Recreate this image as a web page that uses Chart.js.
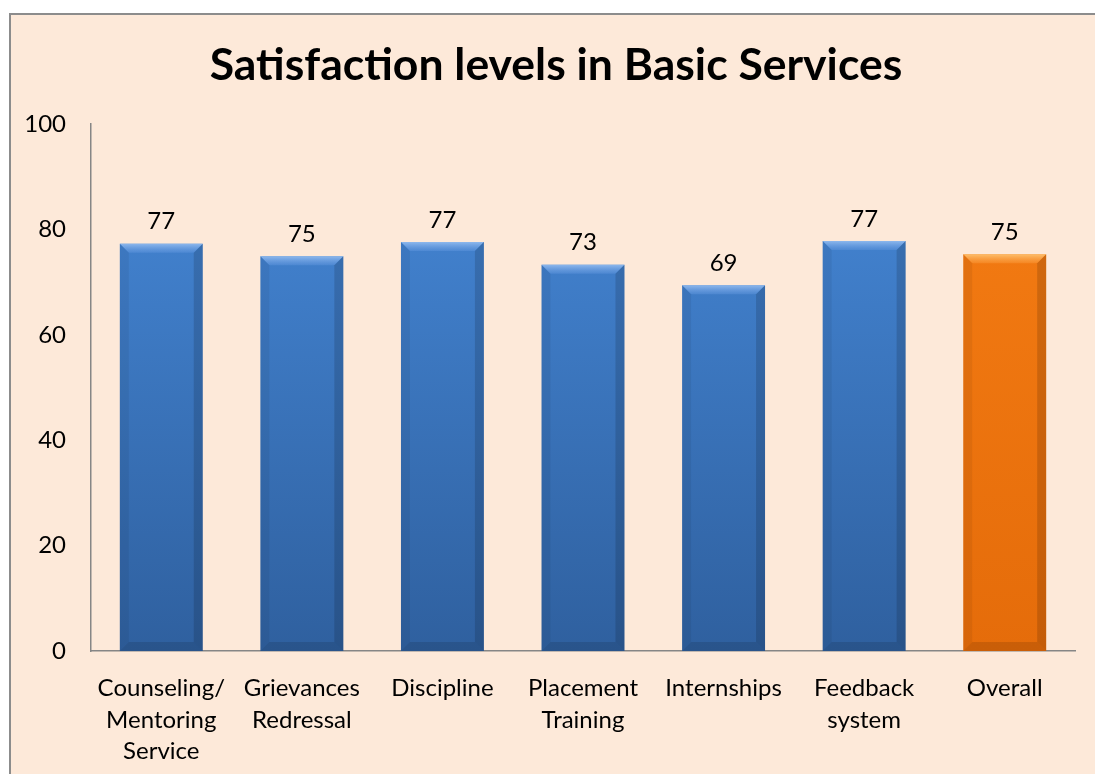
<!DOCTYPE html>
<html>
<head>
<meta charset="utf-8">
<script src="https://cdn.jsdelivr.net/npm/chart.js@4.4.1/dist/chart.umd.min.js"></script>
<style>
  html, body { margin: 0; padding: 0; background: #ffffff; overflow: hidden; }
  .frame {
    position: absolute; left: 9px; top: 13px; width: 1100px; height: 780px;
    background: #fde9d9; border: 2px solid #8c8c8c;
  }
  #wrap { position: absolute; left: 0; top: 0; width: 1095px; height: 774px; }
</style>
</head>
<body>
<div class="frame"></div>
<div id="wrap"><canvas id="satChart"></canvas></div>
<script>
// Chart data
const chartTitle = 'Satisfaction levels in Basic Services';
const categories = [
    ['Counseling/', 'Mentoring', 'Service'],
    ['Grievances', 'Redressal'],
    'Discipline',
    ['Placement', 'Training'],
    'Internships',
    ['Feedback', 'system'],
    'Overall'
];
const satisfaction = [77.3, 74.9, 77.6, 73.3, 69.4, 77.8, 75.3];
const valueLabels = ['77', '75', '77', '73', '69', '77', '75'];
const yTicks = [0, 20, 40, 60, 80, 100];

const blueTop = '#4689d9';
const blueBottom = '#2f609f';
const orangeTop = '#f57d14';
const orangeBottom = '#e56c0a';

function barFill(context) {
    const chart = context.chart;
    const area = chart.chartArea;
    if (!area) return blueTop;
    const isOverall = context.dataIndex === satisfaction.length - 1;
    const g = chart.ctx.createLinearGradient(0, area.top, 0, area.bottom);
    g.addColorStop(0, isOverall ? orangeTop : blueTop);
    g.addColorStop(1, isOverall ? orangeBottom : blueBottom);
    return g;
}

// bevel highlight + value labels + title
const bevelPlugin = {
    id: 'bevel',
    afterDatasetsDraw(chart) {
        const ctx = chart.ctx;
        const meta = chart.getDatasetMeta(0);
        meta.data.forEach((bar, i) => {
            const isOverall = i === satisfaction.length - 1;
            const l = bar.x - bar.width / 2;
            const r = bar.x + bar.width / 2;
            const t = bar.y;
            const b = bar.base;
            const d = 9;
            ctx.save();
            // top facet
            ctx.beginPath();
            ctx.moveTo(l, t); ctx.lineTo(r, t); ctx.lineTo(r - d, t + d); ctx.lineTo(l + d, t + d);
            ctx.closePath();
            const tg = ctx.createLinearGradient(0, t, 0, t + d);
            tg.addColorStop(0, isOverall ? 'rgba(255,200,120,0.9)' : 'rgba(150,190,240,0.9)');
            tg.addColorStop(1, isOverall ? 'rgba(255,170,80,0.3)' : 'rgba(110,160,230,0.3)');
            ctx.fillStyle = tg;
            ctx.fill();
            // left facet
            ctx.beginPath();
            ctx.moveTo(l, t); ctx.lineTo(l + d, t + d); ctx.lineTo(l + d, b - d); ctx.lineTo(l, b);
            ctx.closePath();
            ctx.fillStyle = 'rgba(0,0,0,0.06)';
            ctx.fill();
            // right facet
            ctx.beginPath();
            ctx.moveTo(r, t); ctx.lineTo(r - d, t + d); ctx.lineTo(r - d, b - d); ctx.lineTo(r, b);
            ctx.closePath();
            ctx.fillStyle = 'rgba(0,0,0,0.14)';
            ctx.fill();
            // bottom facet
            ctx.beginPath();
            ctx.moveTo(l, b); ctx.lineTo(l + d, b - d); ctx.lineTo(r - d, b - d); ctx.lineTo(r, b);
            ctx.closePath();
            ctx.fillStyle = 'rgba(0,0,0,0.12)';
            ctx.fill();
            // value label
            ctx.fillStyle = '#000000';
            ctx.font = '24px Lato';
            ctx.textAlign = 'center';
            ctx.textBaseline = 'bottom';
            ctx.fillText(valueLabels[i], bar.x, t - 10);
            ctx.restore();
        });
    },
    afterDraw(chart) {
        const ctx = chart.ctx;
        ctx.save();
        ctx.fillStyle = '#000000';
        ctx.font = 'bold 44.5px Lato';
        ctx.textAlign = 'center';
        ctx.textBaseline = 'alphabetic';
        ctx.fillText(chartTitle, 556, 80);
        ctx.restore();
    }
};

const ctx = document.getElementById('satChart');
new Chart(ctx, {
    type: 'bar',
    data: {
        labels: categories,
        datasets: [{
            data: satisfaction,
            backgroundColor: barFill,
            borderWidth: 0,
            categoryPercentage: 1.0,
            barPercentage: 0.59
        }]
    },
    options: {
        responsive: true,
        maintainAspectRatio: false,
        animation: false,
        layout: { padding: { left: 0, right: 20, top: 124, bottom: 0 } },
        plugins: {
            legend: { display: false },
            tooltip: { enabled: false },
            title: { display: false }
        },
        scales: {
            x: {
                grid: { display: false },
                border: { display: true, color: '#868686', width: 1.5 },
                ticks: {
                    color: '#000000',
                    font: { family: 'Lato', size: 24, lineHeight: 1.3 },
                    padding: 14,
                    maxRotation: 0,
                    autoSkip: false
                },
                afterFit(scale) { scale.height = 123; }
            },
            y: {
                min: 0,
                max: 100,
                afterBuildTicks(scale) { scale.ticks = yTicks.map(v => ({ value: v })); },
                grid: { display: false },
                border: { display: true, color: '#868686', width: 1.5 },
                ticks: {
                    color: '#000000',
                    font: { family: 'Lato', size: 24 },
                    padding: 17
                },
                afterFit(scale) { scale.width = 91; }
            }
        }
    },
    plugins: [bevelPlugin]
});
</script>
</body>
</html>
